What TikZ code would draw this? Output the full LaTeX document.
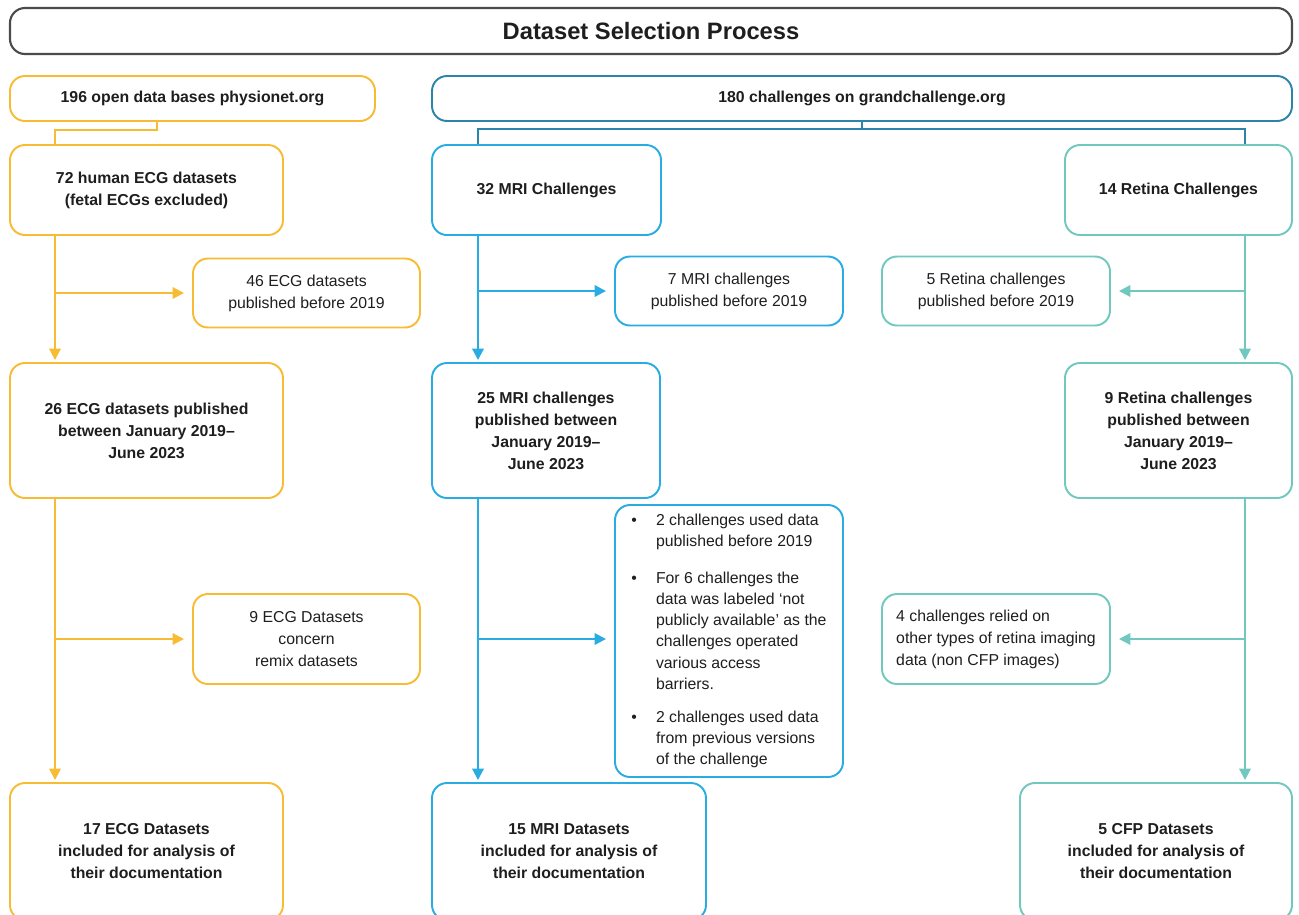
\documentclass[tikz,border=0pt]{standalone}
\usepackage{fontspec}
\setmainfont{Liberation Sans}
\usetikzlibrary{arrows.meta}

\definecolor{ecgyellow}{RGB}{247,188,52}
\definecolor{grandblue}{RGB}{44,132,170}
\definecolor{mriblue}{RGB}{40,172,225}
\definecolor{retteal}{RGB}{112,200,190}
\definecolor{framegray}{RGB}{75,75,75}
\definecolor{inkgray}{RGB}{30,30,30}

\newlength\pxu
\setlength\pxu{0.02cm}

\tikzset{
	basebox/.style={shape=rectangle, rounded corners=15\pxu, line width=1.1pt, inner sep=2pt,
		align=center, text=inkgray, font=\fontsize{9}{12.5}\selectfont},
	strong/.style={font=\bfseries\fontsize{9}{12.5}\selectfont},
	boxdim/.style 2 args={minimum width=#1\pxu, minimum height=#2\pxu},
	titlebox/.style={basebox, draw=framegray, line width=1.2pt, font=\bfseries\fontsize{13.5}{16}\selectfont},
	ecgbox/.style={basebox, draw=ecgyellow},
	grandbox/.style={basebox, draw=grandblue},
	mribox/.style={basebox, draw=mriblue},
	retbox/.style={basebox, draw=retteal},
	ecgline/.style={draw=ecgyellow, line width=1.2pt},
	grandline/.style={draw=grandblue, line width=1.1pt},
	mriline/.style={draw=mriblue, line width=1.2pt},
	retline/.style={draw=retteal, line width=1.2pt},
	flow/.style={-{Triangle[length=6.5pt,width=6.5pt]}, shorten >=2\pxu},
	sideflow/.style={-{Triangle[length=6.5pt,width=6.5pt]}, shorten >=8\pxu}
}

\begin{document}
\begin{tikzpicture}[x=0.02cm, y=-0.02cm]

	\useasboundingbox (0,0) rectangle (1299,914);
	\clip (0,0) rectangle (1299,914);

	% header
	\node[titlebox, boxdim={1282}{46}] (title) at (651, 31) {Dataset Selection Process};

	% sources
	\node[ecgbox, strong, boxdim={365}{45}] (ecgtop) at (192.5, 98.5) {196 open data bases physionet.org};
	\node[grandbox, strong, boxdim={860}{45}] (grand) at (862, 98.5) {180 challenges on grandchallenge.org};

	% first level
	\node[ecgbox, strong, boxdim={273}{90}] (ecg72) at (146.5, 190) {72 human ECG datasets\\(fetal ECGs excluded)};
	\node[mribox, strong, boxdim={229}{90}] (mri32) at (546.5, 190) {32 MRI Challenges};
	\node[retbox, strong, boxdim={227}{90}] (ret14) at (1178.5, 190) {14 Retina Challenges};

	% excluded before 2019
	\node[ecgbox, boxdim={227}{69}] (ecg46) at (306.5, 293) {46 ECG datasets\\published before 2019};
	\node[mribox, boxdim={228}{69}] (mri7) at (729, 291) {7 MRI challenges\\published before 2019};
	\node[retbox, boxdim={228}{69}] (ret5) at (996, 291) {5 Retina challenges\\published before 2019};

	% second level
	\node[ecgbox, strong, boxdim={273}{135}] (ecg26) at (146.5, 430.5) {26 ECG datasets published\\between January 2019--\\June 2023};
	\node[mribox, strong, boxdim={228}{135}] (mri25) at (546, 430.5) {25 MRI challenges\\published between\\January 2019--\\June 2023};
	\node[retbox, strong, boxdim={227}{135}] (ret9) at (1178.5, 430.5) {9 Retina challenges\\published between\\January 2019--\\June 2023};

	% further exclusions
	\node[ecgbox, boxdim={227}{90}] (ecg9) at (306.5, 639) {9 ECG Datasets\\concern\\remix datasets};
	\node[mribox, inner sep=0pt, font=\fontsize{9}{12}\selectfont, boxdim={228}{272}] (mrinote) at (729, 641) {%
		\begin{tabular}{@{}p{8pt}@{\hspace{6pt}}l@{}}
			\textbullet & 2 challenges used data\\
			& published before 2019\\[9pt]
			\textbullet & For 6 challenges the\\
			& data was labeled ‘not\\
			& publicly available’ as the\\
			& challenges operated\\
			& various access\\
			& barriers.\\[7pt]
			\textbullet & 2 challenges used data\\
			& from previous versions\\
			& of the challenge
		\end{tabular}};
	\node[retbox, align=left, boxdim={228}{90}] (ret4) at (996, 639) {4 challenges relied on\\other types of retina imaging\\data (non CFP images)};

	% included
	\node[ecgbox, strong, boxdim={273}{137}] (ecg17) at (146.5, 851.5) {17 ECG Datasets\\included for analysis of\\their documentation};
	\node[mribox, strong, boxdim={274}{137}] (mri15) at (569, 851.5) {15 MRI Datasets\\included for analysis of\\their documentation};
	\node[retbox, strong, boxdim={272}{137}] (cfp5) at (1156, 851.5) {5 CFP Datasets\\included for analysis of\\their documentation};

	% spines and splits
	\coordinate (ecgspine) at (55, 0);
	\coordinate (mrispine) at (478, 0);
	\coordinate (retspine) at (1245, 0);
	\coordinate (ecgsplit) at (157, 130);
	\coordinate (grandsplit) at (862, 129);

	\draw[ecgline] (ecgtop.south -| ecgsplit) -- (ecgsplit) -| (ecg72.north -| ecgspine);
	\draw[grandline] (grand.south) -- (grandsplit) -| (mri32.north -| mrispine);
	\draw[grandline] (grandsplit) -| (ret14.north -| retspine);

	% ECG column
	\draw[ecgline, flow] (ecg72.south -| ecgspine) -- (ecg26.north -| ecgspine);
	\draw[ecgline, flow] (ecg26.south -| ecgspine) -- (ecg17.north -| ecgspine);
	\draw[ecgline, sideflow] (ecgspine |- ecg46.west) -- (ecg46.west);
	\draw[ecgline, sideflow] (ecgspine |- ecg9.west) -- (ecg9.west);

	% MRI column
	\draw[mriline, flow] (mri32.south -| mrispine) -- (mri25.north -| mrispine);
	\draw[mriline, flow] (mri25.south -| mrispine) -- (mri15.north -| mrispine);
	\draw[mriline, sideflow] (mrispine |- mri7.west) -- (mri7.west);
	\draw[mriline, sideflow] (mrispine |- ecg9.west) -- (mrinote.west |- ecg9.west);

	% Retina column
	\draw[retline, flow] (ret14.south -| retspine) -- (ret9.north -| retspine);
	\draw[retline, flow] (ret9.south -| retspine) -- (cfp5.north -| retspine);
	\draw[retline, sideflow] (retspine |- ret5.east) -- (ret5.east);
	\draw[retline, sideflow] (retspine |- ret4.east) -- (ret4.east);

\end{tikzpicture}
\end{document}
